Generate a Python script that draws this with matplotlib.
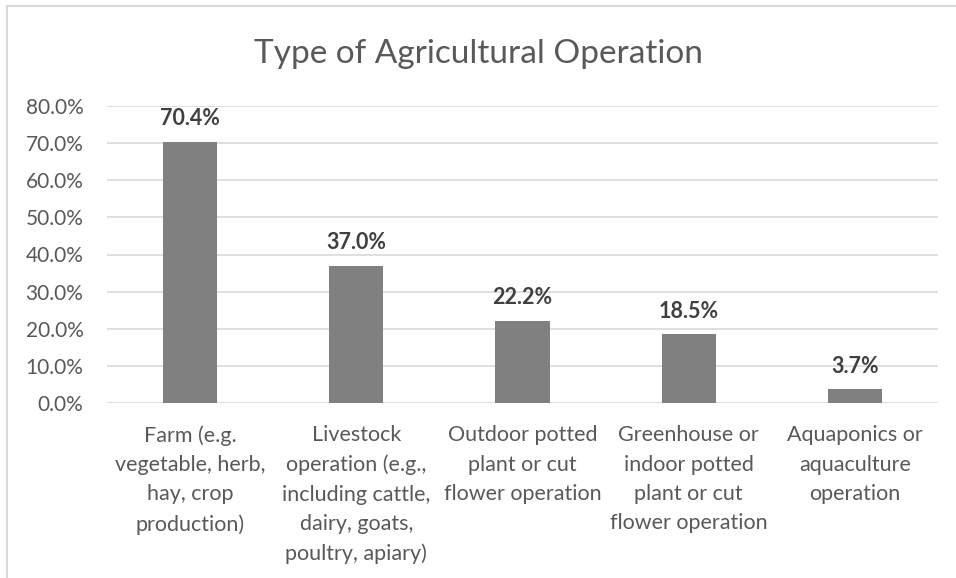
import matplotlib.pyplot as plt
from matplotlib.lines import Line2D
from matplotlib.ticker import FuncFormatter

# data
categories = [
    'Farm (e.g.\nvegetable, herb,\nhay, crop\nproduction)',
    'Livestock\noperation (e.g.,\nincluding cattle,\ndairy, goats,\npoultry, apiary)',
    'Outdoor potted\nplant or cut\nflower operation',
    'Greenhouse or\nindoor potted\nplant or cut\nflower operation',
    'Aquaponics or\naquaculture\noperation',
]
shares = [70.4, 37.0, 22.2, 18.5, 3.7]
y_ticks = [0, 10, 20, 30, 40, 50, 60, 70, 80]

W, H = 956, 578
plt.rcParams['font.family'] = ['Lato', 'DejaVu Sans']

fig = plt.figure(figsize=(W / 100, H / 100), dpi=100)
ax = fig.add_axes([107 / W, 1 - 403 / H, (938 - 107) / W, (403 - 106) / H])

x = range(len(categories))
bars = ax.bar(x, shares, width=0.325, color='#808080', zorder=3)

for b, v in zip(bars, shares):
    ax.annotate(f'{v:.1f}%', (b.get_x() + b.get_width() / 2, v),
                xytext=(0, 12), textcoords='offset points',
                ha='center', va='baseline', fontsize=15.5, fontweight='bold',
                color='#404040')

ax.set_xlim(-0.5, len(categories) - 0.5)
ax.set_ylim(0, 80)
ax.set_yticks(y_ticks)
ax.yaxis.set_major_formatter(FuncFormatter(lambda v, p: f'{v:.1f}%'))
ax.grid(axis='y', color='#d9d9d9', linewidth=1.2, zorder=0)
ax.set_xticks(list(x))
ax.set_xticklabels(categories, fontsize=15.5, color='#595959', linespacing=1.58)
ax.tick_params(axis='y', labelsize=15, labelcolor='#595959', length=0, pad=17)
ax.tick_params(axis='x', length=0, pad=16)
for s in ax.spines.values():
    s.set_visible(False)

# title
fig.text(0.5, 1 - 63 / H, 'Type of Agricultural Operation', ha='center',
         va='baseline', fontsize=24, color='#595959')

# chart area border (top and left edges visible)
fig.add_artist(Line2D([7 / W, 7 / W], [0, 1 - 6 / H], color='#d9d9d9',
                      linewidth=1.5, transform=fig.transFigure))
fig.add_artist(Line2D([7 / W, 1], [1 - 6 / H, 1 - 6 / H], color='#d9d9d9',
                      linewidth=1.5, transform=fig.transFigure))

fig.savefig('out.png', dpi=100)
